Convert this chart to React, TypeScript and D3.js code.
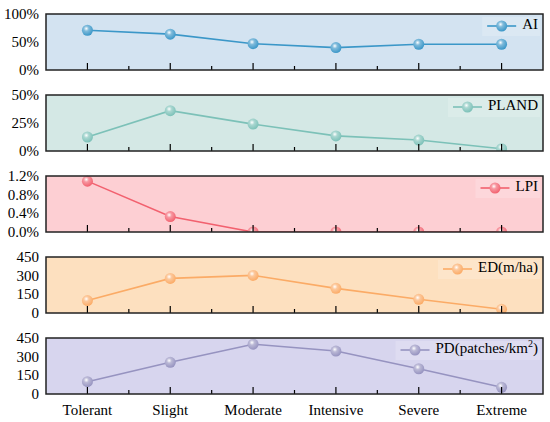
import React from 'react';
import * as d3 from 'd3';

const categories = ['Tolerant', 'Slight', 'Moderate', 'Intensive', 'Severe', 'Extreme'];

const aiValues = [71, 64, 47, 40, 46, 46];
const plandValues = [12.5, 36, 24, 13.5, 9.8, 2];
const lpiValues = [1.09, 0.33, 0, 0, 0, 0];
const edValues = [100, 278, 302, 198, 110, 30];
const pdValues = [99, 255, 400, 345, 203, 54];

const aiTicks = [0, 50, 100];
const plandTicks = [0, 25, 50];
const lpiTicks = [0, 0.4, 0.8, 1.2];
const edTicks = [0, 150, 300, 450];
const pdTicks = [0, 150, 300, 450];

interface Panel {
  name: string;
  values: number[];
  ticks: number[];
  fmt: (v: number) => string;
  line: string;
  bg: string;
  sup?: string;
}

const panels: Panel[] = [
  { name: 'AI', values: aiValues, ticks: aiTicks, fmt: v => `${v}%`, line: '#3b97c8', bg: '#d3e3f1' },
  { name: 'PLAND', values: plandValues, ticks: plandTicks, fmt: v => `${v}%`, line: '#7cc1b8', bg: '#d4e8e5' },
  { name: 'LPI', values: lpiValues, ticks: lpiTicks, fmt: v => `${v.toFixed(1)}%`, line: '#f2616f', bg: '#fdcfd3' },
  { name: 'ED(m/ha)', values: edValues, ticks: edTicks, fmt: v => `${v}`, line: '#fbab66', bg: '#fde0bf' },
  { name: 'PD(patches/km', sup: '2', values: pdValues, ticks: pdTicks, fmt: v => `${v}`, line: '#9693c0', bg: '#d7d5ee' },
];

const font = "'Liberation Serif'";

// rough text width for sizing the legend boxes
function textWidth(p: Panel): number {
  const ctx = document.createElement('canvas').getContext('2d');
  if (!ctx) return p.name.length * 8;
  ctx.font = "15px 'Liberation Serif'";
  let w = ctx.measureText(p.name).width;
  if (p.sup) {
    w += ctx.measureText(')').width;
    ctx.font = "10px 'Liberation Serif'";
    w += ctx.measureText(p.sup).width;
  }
  return w;
}

export default function App() {
  const width = 550;
  const height = 422;
  const left = 46;
  const right = 543;
  const panelH = 56;
  const tops = [14, 95, 176, 257, 338];

  const x = d3.scalePoint<string>().domain(categories).range([left, right]).padding(0.5);
  const step = x.step();

  return (
    <svg
      width={width}
      height={height}
      fontFamily={font}
      style={{ position: 'absolute', left: 0, top: 0, background: '#fff' }}
    >
      <defs>
        {panels.map((p, i) => (
          <radialGradient key={i} id={`ball${i}`} cx="40%" cy="35%" r="65%">
            <stop offset="0%" stopColor="#ffffff" />
            <stop offset="35%" stopColor={d3.interpolateRgb(p.line, '#ffffff')(0.35)} />
            <stop offset="100%" stopColor={p.line} />
          </radialGradient>
        ))}
        {panels.map((p, i) => (
          <clipPath key={i} id={`clip${i}`}>
            <rect x={left} y={tops[i] - 10} width={right - left} height={panelH + 10} />
          </clipPath>
        ))}
      </defs>

      {panels.map((p, i) => {
        const top = tops[i];
        const bottom = top + panelH;
        const y = d3.scaleLinear()
          .domain([0, p.ticks[p.ticks.length - 1]])
          .range([bottom, top]);
        const data = categories.map((c, j) => ({ c, v: p.values[j] }));
        const path = d3.line<{ c: string; v: number }>()
          .x(d => x(d.c) as number)
          .y(d => y(d.v))(data) || '';
        const tw = textWidth(p);
        const tEnd = right - 5;
        const tx = tEnd - tw;
        const ly = top + 12;

        return (
          <g key={p.name}>
            <rect x={left} y={top} width={right - left} height={panelH} fill={p.bg} />

            {/* legend */}
            <rect x={tx - 40} y={top + 3} width={tw + 42} height={19} fill="#ffffff" opacity={0.18} />
            <line x1={tx - 35} x2={tx - 6} y1={ly} y2={ly} stroke={p.line} strokeWidth={1.6} />
            <circle cx={tx - 20.5} cy={ly} r={5.5} fill={`url(#ball${i})`} />
            <text x={tEnd} y={ly} textAnchor="end" dominantBaseline="middle" fontSize={15} fill="#000">
              <tspan>{p.name}</tspan>
              {p.sup && <tspan dy={-5} fontSize={10}>{p.sup}</tspan>}
              {p.sup && <tspan dy={5}>)</tspan>}
            </text>

            <g clipPath={`url(#clip${i})`}>
              <path d={path} fill="none" stroke={p.line} strokeWidth={1.6} />
              {data.map(d => (
                <circle key={d.c} cx={x(d.c) as number} cy={y(d.v)} r={5.5} fill={`url(#ball${i})`} />
              ))}
            </g>

            {categories.map(c => (
              <line key={c} x1={x(c) as number} x2={x(c) as number} y1={bottom} y2={bottom - 7}
                stroke="#000" strokeWidth={1.2} />
            ))}
            {categories.slice(0, -1).map(c => (
              <line key={`m${c}`} x1={(x(c) as number) + step / 2} x2={(x(c) as number) + step / 2}
                y1={bottom} y2={bottom - 4} stroke="#000" strokeWidth={1.2} />
            ))}

            {p.ticks.map(t => (
              <text key={t} x={left - 7} y={y(t)} textAnchor="end" dominantBaseline="central"
                fontSize={15} fill="#000">
                {p.fmt(t)}
              </text>
            ))}

            <rect x={left} y={top} width={right - left} height={panelH} fill="none"
              stroke="#222" strokeWidth={1.5} />
          </g>
        );
      })}

      {categories.map(c => (
        <text key={c} x={x(c) as number} y={415} textAnchor="middle" fontSize={15} fill="#000">
          {c}
        </text>
      ))}
    </svg>
  );
}
